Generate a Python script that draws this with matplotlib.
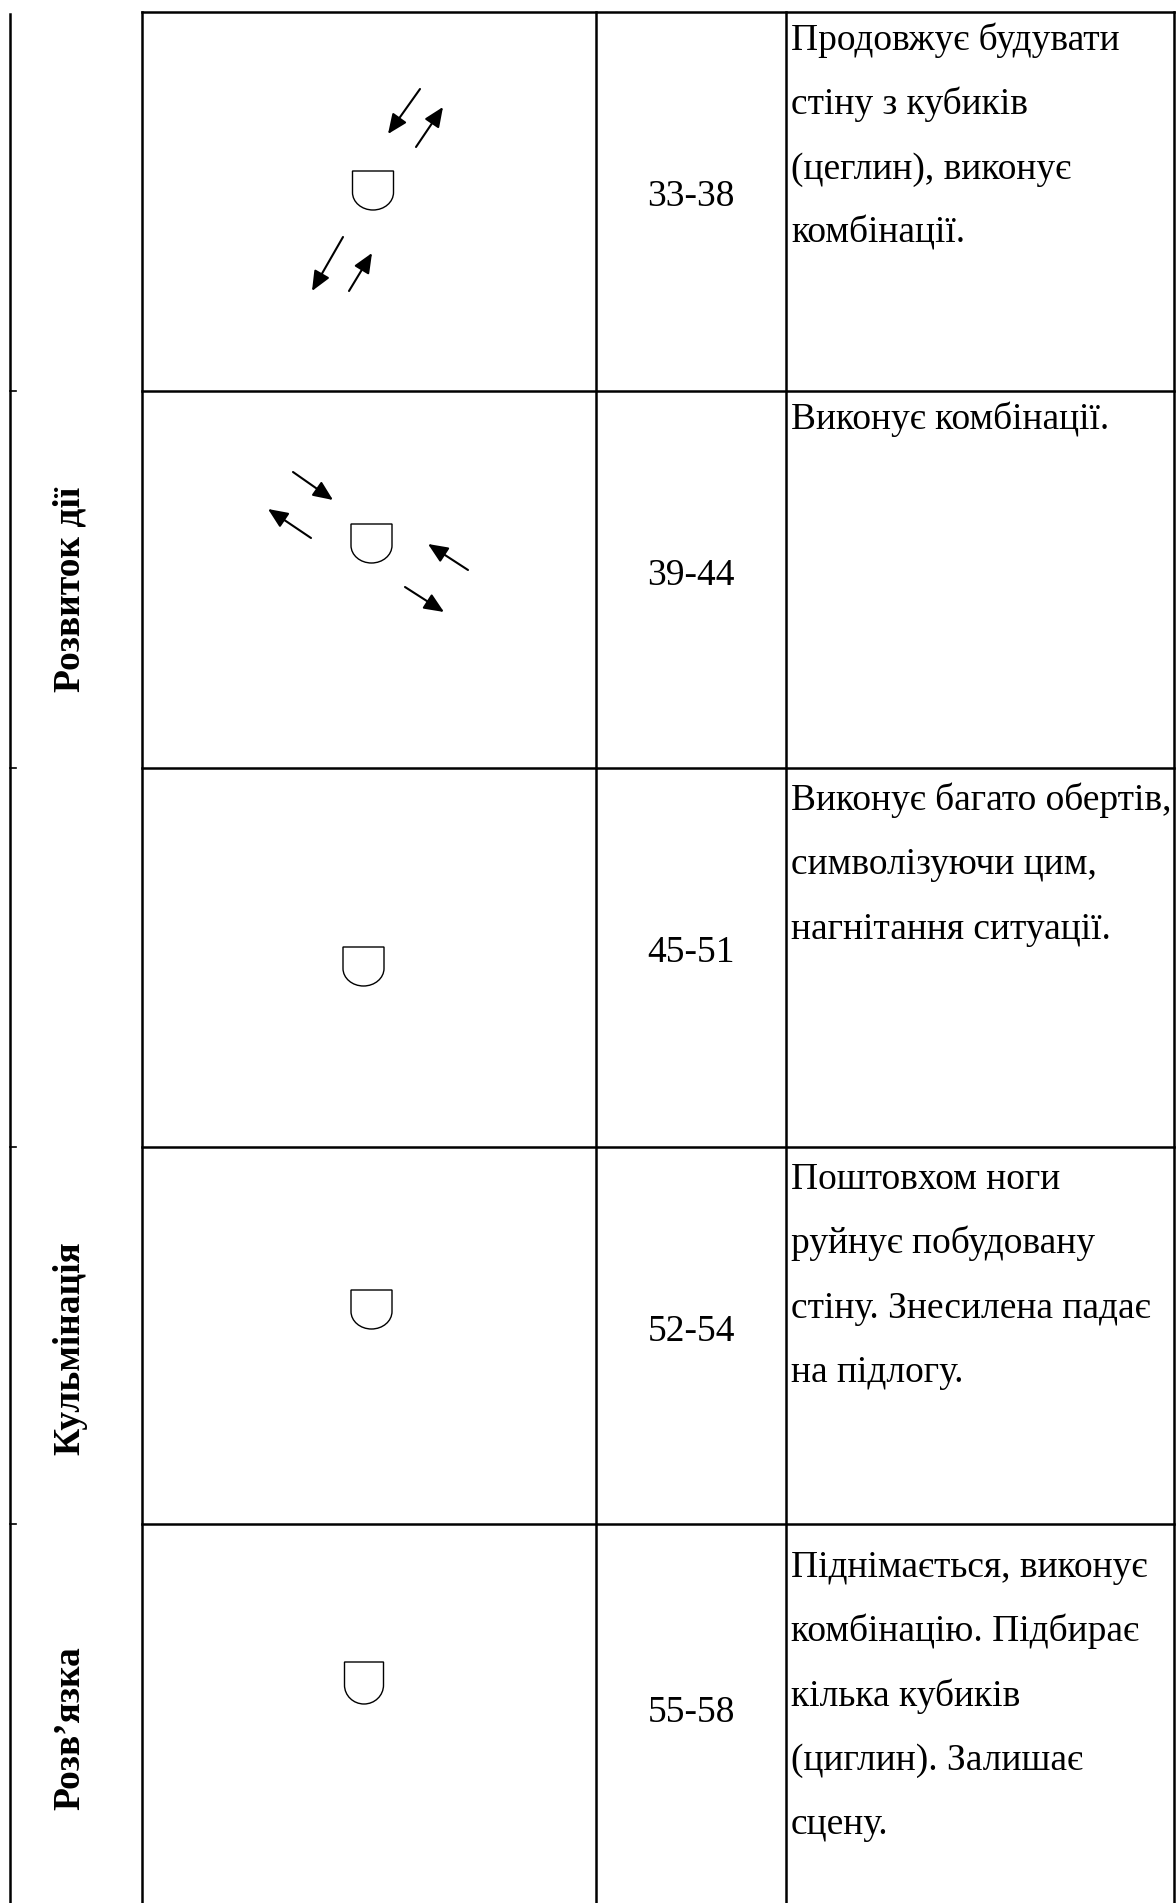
import matplotlib.pyplot as plt
from matplotlib.patches import FancyArrowPatch, PathPatch
from matplotlib.path import Path

# table content
stage_labels = ["Розвиток дії", "Кульмінація", "Розв’язка"]
bar_ranges = ["33-38", "39-44", "45-51", "52-54", "55-58"]
descriptions = [
    ["Продовжує будувати", "стіну з кубиків", "(цеглин), виконує", "комбінації."],
    ["Виконує комбінації."],
    ["Виконує багато обертів,", "символізуючи цим,", "нагнітання ситуації."],
    ["Поштовхом ноги", "руйнує побудовану", "стіну. Знесилена падає", "на підлогу."],
    ["Піднімається, виконує", "комбінацію. Підбирає", "кілька кубиків",
     "(циглин). Залишає", "сцену."],
]

# layout (pixels, figure is drawn 1:1 in pixel coordinates)
W, H = 1176, 1903
row_tops = [12, 391, 768, 1147, 1524]
text_offset = [38, 38, 42, 42, 53]
num_offset = [194, 194, 194, 194, 198]
x_outer, x_left, x_num, x_desc, x_right = 9.5, 142, 596, 786, 1174
label_pos = [(79, 589), (79, 1348), (79, 1728)]
# (centre x, top, width, height)
symbol_box = [(373, 171, 41, 39), (371.5, 524, 41, 39), (363.5, 947, 41, 39),
              (371.5, 1290, 41, 39), (364, 1662, 39, 42)]
arrow_paths = [
    ((420, 89), (388, 134)), ((416, 147), (443, 107)),
    ((343, 237), (312, 291)), ((349, 291), (372, 253)),
    ((293, 472), (333, 500)), ((311, 538), (268, 509)),
    ((468, 570), (428, 544)), ((405, 587), (444, 612)),
]

FONT = "Liberation Serif"
FS = 27
LW = 1.8


def draw_symbol(ax, cx, top, w, h):
    # flat top, straight sides, rounded bottom
    r = w / 2
    ry = 0.45 * h
    side = top + h - ry
    k = 0.5523
    verts = [
        (cx - r, side), (cx - r, top), (cx + r, top), (cx + r, side),
        (cx + r, side + k * ry), (cx + k * r, top + h), (cx, top + h),
        (cx - k * r, top + h), (cx - r, side + k * ry), (cx - r, side),
    ]
    codes = [Path.MOVETO, Path.LINETO, Path.LINETO, Path.LINETO,
             Path.CURVE4, Path.CURVE4, Path.CURVE4,
             Path.CURVE4, Path.CURVE4, Path.CURVE4]
    ax.add_patch(PathPatch(Path(verts, codes), fill=False, lw=1.0, ec="black"))


fig = plt.figure(figsize=(W / 100, H / 100), dpi=100)
ax = fig.add_axes([0, 0, 1, 1])
ax.set_xlim(0, W)
ax.set_ylim(H, 0)
ax.axis("off")

# grid lines
for x in [x_left, x_num, x_desc, x_right]:
    ax.plot([x, x], [row_tops[0], H], color="black", lw=LW, solid_capstyle="projecting")
for y in row_tops:
    ax.plot([x_left, x_right], [y, y], color="black", lw=LW, solid_capstyle="projecting")
ax.plot([x_outer, x_outer], [14, H], color="black", lw=LW)
for y in row_tops[1:]:
    ax.plot([x_outer, x_outer + 6], [y, y], color="black", lw=1.2)

# stage labels (rotated)
for lab, (x, y) in zip(stage_labels, label_pos):
    ax.text(x, y, lab, rotation=90, rotation_mode="anchor", ha="center",
            va="baseline", fontsize=FS, fontweight="bold", family=FONT)

# bar ranges and descriptions
line_gap = 64.3
for i, top in enumerate(row_tops):
    ax.text((x_num + x_desc) / 2, top + num_offset[i], bar_ranges[i], ha="center",
            va="baseline", fontsize=FS, family=FONT)
    for j, line in enumerate(descriptions[i]):
        ax.text(x_desc + 5, top + text_offset[i] + j * line_gap, line, ha="left",
                va="baseline", fontsize=FS, family=FONT)

# performer symbols
for cx, top, w, h in symbol_box:
    draw_symbol(ax, cx, top, w, h)

# movement arrows
for tail, head in arrow_paths:
    ax.add_patch(FancyArrowPatch(tail, head, arrowstyle="-|>,head_length=12,head_width=5.2",
                                 mutation_scale=1, lw=1.5, color="black",
                                 shrinkA=0, shrinkB=0))

fig.savefig("out.png", dpi=100)
